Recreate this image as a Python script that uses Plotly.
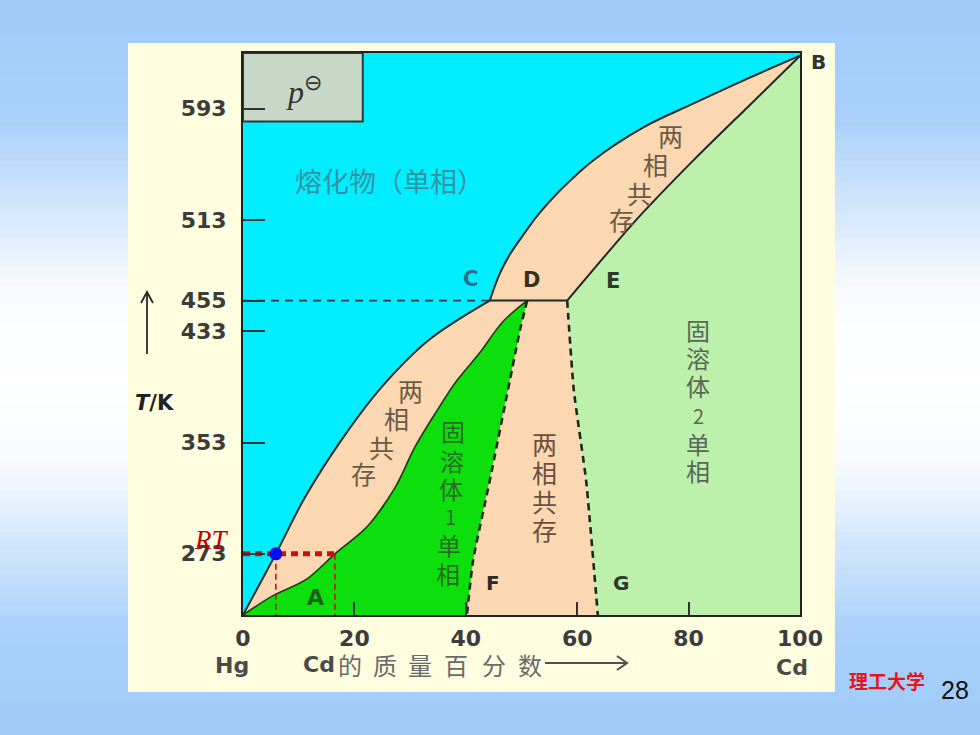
import plotly.graph_objects as go

# ---------------- data (x: Cd mass %, T: K) ----------------
x_range = [0, 100]
T_range = [229, 633]

x_tickvals = [0, 20, 40, 60, 80, 100]
T_tickvals = [273, 353, 433, 455, 513, 593]

# liquidus, Hg side (O -> C)
liq_lo_x = [0, 5.9, 11.1, 17.6, 24.8, 33.2, 44.3]
liq_lo_T = [229, 273, 313.4, 354.4, 392.5, 426.2, 455]
# liquidus, Cd side (C -> B)
liq_up_x = [44.3, 46.1, 47.9, 50.1, 53.0, 56.9, 62.8, 71.8, 80.8, 89.8, 100]
liq_up_T = [455, 474.4, 488.1, 501.0, 516.8, 534.1, 555.6, 579.4, 596.6, 613.2, 631]
# solidus, Cd side (E -> B)
sol_up_x = [58.2, 70.0, 80.8, 90.5, 100]
sol_up_T = [455, 510.4, 555.6, 593.7, 631]
# solidus of solid solution 1 (O -> D)
sol1_x = [0, 5.4, 11.5, 16.5, 22.4, 27.3, 30.9, 35.0, 38.4, 42.5, 46.7, 51.0]
sol1_T = [229, 242.9, 255.0, 273, 293.0, 320.6, 350.0, 377.0, 397.5, 417.5, 440.0, 455]
# solubility limits (D -> F) and (E -> G)
df_x = [51.0, 49.7, 47.9, 44.3, 41.3, 40.2]
df_T = [455, 433.4, 397.5, 325.6, 268.1, 229]
eg_x = [58.2, 59.4, 61.6, 63.7]
eg_T = [455, 390.3, 325.6, 229]
# three-phase line
T_CDE = 455
# room temperature
T_RT = 273
x_RT_liq = 5.9
x_RT_sol = 16.5
# p-standard label box
box_x = [0, 21.5, 21.5, 0, 0]
box_T = [633, 633, 583.7, 583.7, 633]

# ---------------- colours ----------------
CYAN = "#00EEFF"
TAN = "#FBD8B1"
GREEN = "#0CDF0C"
LGREEN = "#BDF0AB"
LINE = "#1c2a2a"

# ---------------- layout geometry ----------------
W, H = 980, 735
ML, MR, MT, MB = 243, 180, 53, 120
PW, PH = W - ML - MR, H - MT - MB


def px(xp):
    return (xp - ML) / PW


def py(yp):
    return (H - MB - yp) / PH


fig = go.Figure()

# liquid region
cx = [x_range[0], x_range[1]] + liq_up_x[::-1] + liq_lo_x[::-1][1:]
cT = [T_range[1], T_range[1]] + liq_up_T[::-1] + liq_lo_T[::-1][1:]
fig.add_trace(go.Scatter(x=cx, y=cT, fill="toself", fillcolor=CYAN,
                         mode="lines", line=dict(width=0)))
# two-phase (below liquidus)
tx = liq_lo_x + liq_up_x[1:] + [x_range[1], x_range[0]]
tT = liq_lo_T + liq_up_T[1:] + [T_range[0], T_range[0]]
fig.add_trace(go.Scatter(x=tx, y=tT, fill="toself", fillcolor=TAN,
                         mode="lines", line=dict(width=0)))
# solid solution 2
gx = sol_up_x + [x_range[1]] + eg_x[::-1]
gT = sol_up_T + [T_range[0]] + eg_T[::-1]
fig.add_trace(go.Scatter(x=gx, y=gT, fill="toself", fillcolor=LGREEN,
                         mode="lines", line=dict(width=0)))
# solid solution 1
s1x = sol1_x + df_x[1:]
s1T = sol1_T + df_T[1:]
fig.add_trace(go.Scatter(x=s1x, y=s1T, fill="toself", fillcolor=GREEN,
                         mode="lines", line=dict(width=0)))

# legend box
fig.add_trace(go.Scatter(x=box_x, y=box_T, fill="toself", fillcolor="#C8D8C6",
                         mode="lines", line=dict(width=2, color="#2a3a3a")))

# boundary lines
fig.add_trace(go.Scatter(x=[x_range[0], liq_lo_x[-1]], y=[T_CDE, T_CDE], mode="lines",
                         line=dict(color="#2a3a4a", width=1.6, dash="8px,6px")))
fig.add_trace(go.Scatter(x=liq_lo_x, y=liq_lo_T, mode="lines",
                         line=dict(color=LINE, width=2, shape="spline", smoothing=1.0)))
fig.add_trace(go.Scatter(x=liq_up_x, y=liq_up_T, mode="lines",
                         line=dict(color=LINE, width=2, shape="spline", smoothing=1.0)))
fig.add_trace(go.Scatter(x=sol_up_x, y=sol_up_T, mode="lines",
                         line=dict(color=LINE, width=2, shape="spline", smoothing=0.6)))
fig.add_trace(go.Scatter(x=sol1_x, y=sol1_T, mode="lines",
                         line=dict(color="#1a3a1a", width=1.6, shape="spline", smoothing=1.0)))
fig.add_trace(go.Scatter(x=[liq_lo_x[-1], sol_up_x[0]], y=[T_CDE, T_CDE], mode="lines",
                         line=dict(color=LINE, width=2)))
fig.add_trace(go.Scatter(x=df_x, y=df_T, mode="lines",
                         line=dict(color="#1a2a1a", width=2.6, dash="7px,5px", shape="spline", smoothing=0.5)))
fig.add_trace(go.Scatter(x=eg_x, y=eg_T, mode="lines",
                         line=dict(color="#1a2a1a", width=2.6, dash="7px,5px", shape="spline", smoothing=0.5)))

# room temperature construction
fig.add_trace(go.Scatter(x=[x_RT_liq, x_RT_liq], y=[T_RT, T_range[0]], mode="lines",
                         line=dict(color="#C81010", width=1.6, dash="6px,4px")))
fig.add_trace(go.Scatter(x=[x_RT_sol, x_RT_sol], y=[T_RT, T_range[0]], mode="lines",
                         line=dict(color="#C81010", width=1.6, dash="6px,4px")))
fig.add_trace(go.Scatter(x=[x_range[0], x_RT_sol], y=[T_RT, T_RT], mode="lines",
                         line=dict(color="#C81010", width=5, dash="7px,5px")))
fig.add_trace(go.Scatter(x=[x_RT_liq], y=[T_RT], mode="markers",
                         marker=dict(color="#0010F0", size=13)))

# ---------------- background shapes ----------------
shapes = []
stops = [(0, (160, 204, 250)), (117, (168, 208, 250)), (290, (248, 251, 255)),
         (380, (255, 255, 255)), (469, (246, 250, 254)), (633, (168, 208, 250)),
         (735, (160, 204, 250))]


def grad(y):
    for (y0, c0), (y1, c1) in zip(stops[:-1], stops[1:]):
        if y0 <= y <= y1:
            f = (y - y0) / (y1 - y0)
            return "rgb(%d,%d,%d)" % tuple(round(a + (b - a) * f) for a, b in zip(c0, c1))
    return "rgb(160,204,250)"


step = 7
for y0 in range(0, H, step):
    shapes.append(dict(type="rect", xref="paper", yref="paper", layer="below",
                       x0=px(0), x1=px(W), y0=py(y0), y1=py(min(y0 + step + 1, H)),
                       fillcolor=grad(y0 + step / 2), line=dict(width=0)))
shapes.append(dict(type="rect", xref="paper", yref="paper", layer="below",
                   x0=px(128), x1=px(835), y0=py(43), y1=py(692),
                   fillcolor="#FFFDE0", line=dict(width=0)))
# arrows
shapes.append(dict(type="path", xref="paper", yref="paper",
                   path="M %f,%f L %f,%f M %f,%f L %f,%f L %f,%f" % (
                       px(147), py(354), px(147), py(292),
                       px(141), py(303), px(147), py(292), px(153), py(303)),
                   line=dict(color="#2a2a2a", width=1.8)))
shapes.append(dict(type="path", xref="paper", yref="paper",
                   path="M %f,%f L %f,%f M %f,%f L %f,%f L %f,%f" % (
                       px(545), py(663), px(627), py(663),
                       px(617), py(656), px(627), py(663), px(617), py(670)),
                   line=dict(color="#505050", width=2)))

# ---------------- annotations ----------------
ann = []
SANS = "DejaVu Sans, Arial, sans-serif"
CJK = "Noto Sans CJK SC"
SERIF = "Liberation Serif, Times New Roman, serif"


def txt(s, xp, yp, size, color, family=SANS, weight="normal", xa="center"):
    ann.append(dict(xref="paper", yref="paper", x=px(xp), y=py(yp), text=s,
                    showarrow=False, xanchor=xa, yanchor="middle",
                    font=dict(size=size, color=color, family=family, weight=weight)))


txt("<i>p</i><sup>⊖</sup>", 304, 90, 32, "#333333", SERIF)
txt("熔化物（单相）", 389, 180, 27, "#3592a2", CJK)
txt("C", 470, 279, 21, "#2a7088", SANS, "bold")
txt("D", 531, 280, 21, "#3a3020", SANS, "bold")
txt("E", 613, 281, 21, "#2e3a2e", SANS, "bold")
txt("B", 818, 62, 20, "#333333", SANS, "bold")
txt("A", 315, 597, 22, "#1d5f1d", SANS, "bold")
txt("F", 493, 583, 20, "#2a2a2a", SANS, "bold")
txt("G", 621, 583, 20, "#2e3a2e", SANS, "bold")
txt("<i>RT</i>", 211, 540, 27, "#C00000", SERIF)
txt("<i>T</i>/K", 154, 403, 21, "#222222", SANS, "bold")

for ch, (a, b) in zip("两相共存", [(670, 135), (655, 164), (639, 193), (621, 219)]):
    txt(ch, a, b, 25, "#6b5a48", CJK)
for ch, (a, b) in zip("两相共存", [(410, 390), (396, 418), (381, 447), (363, 473)]):
    txt(ch, a, b, 25, "#6b5a48", CJK)
for ch, (a, b) in zip("两相共存", [(544, 443), (544, 472), (544, 501), (544, 529)]):
    txt(ch, a, b, 25, "#6a5040", CJK)
for ch, (a, b) in zip("固溶体1单相", [(453, 431), (452, 460), (451, 489), (450, 516), (449, 544), (448, 573)]):
    txt(ch, a, b, 24 if ch != "1" else 20, "#2a6a2a", CJK)
for ch, (a, b) in zip("固溶体2单相", [(698, 329), (698, 357), (698, 386), (698, 415), (698, 444), (698, 471)]):
    txt(ch, a, b, 24 if ch != "2" else 20, "#586858", CJK)

txt("Hg", 232, 665, 22, "#4a4a4a", SANS, "bold")
txt("Cd", 319, 664, 22, "#4a4a4a", SANS, "bold")
for ch, a in zip("的质量百分数", [350, 385, 420, 456, 494, 530]):
    txt(ch, a, 664, 24, "#6a6a6a", CJK)
txt("Cd", 792, 667, 22, "#4a4a4a", SANS, "bold")

txt("理工大学", 887, 680, 19, "#E8141B", CJK, "bold")
txt("28", 955, 690, 25, "#111111", "Liberation Sans, Arial, sans-serif")

fig.update_layout(
    width=W, height=H, autosize=False,
    margin=dict(l=ML, r=MR, t=MT, b=MB, pad=0),
    paper_bgcolor="rgb(160,204,250)", plot_bgcolor=CYAN,
    showlegend=False, hovermode=False,
    shapes=shapes, annotations=ann,
    xaxis=dict(range=x_range, tickvals=x_tickvals, ticks="inside", ticklen=13,
               tickwidth=2, tickcolor="#333333", showline=True, mirror=True,
               linecolor="#222222", linewidth=2, showgrid=False, zeroline=False,
               tickfont=dict(family=SANS, size=22, color="#3c3c3c", weight="bold"),
               ticklabelstandoff=3, fixedrange=True),
    yaxis=dict(range=T_range, tickvals=T_tickvals, ticks="inside", ticklen=22,
               tickwidth=2, tickcolor="#333333", showline=True, mirror=True,
               linecolor="#222222", linewidth=2, showgrid=False, zeroline=False,
               tickfont=dict(family=SANS, size=22, color="#3c3c3c", weight="bold"),
               ticklabelstandoff=10, fixedrange=True),
)

fig.write_html("out.html", config={"displayModeBar": False},
               post_script="document.body.style.margin='0';document.body.style.padding='0';")
